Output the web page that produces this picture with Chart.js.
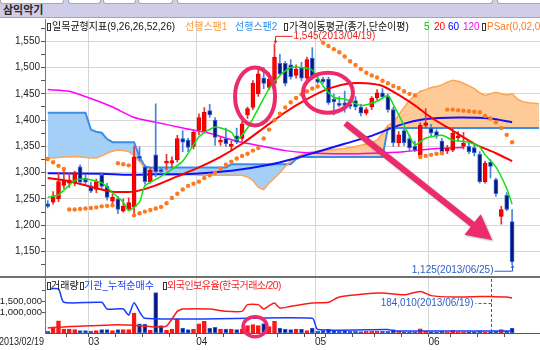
<!DOCTYPE html>
<html lang="ko">
<head>
<meta charset="utf-8">
<title>삼익악기</title>
<script src="https://cdn.jsdelivr.net/npm/chart.js@4.4.1/dist/chart.umd.min.js"></script>
<style>
  html, body { margin: 0; padding: 0; }
  body { position: relative; width: 540px; height: 350px; overflow: hidden; background: #fff;
         font-family: "Liberation Sans", "Noto Sans CJK KR", sans-serif; }
  #titlebar { position: absolute; left: 0; top: 0; width: 540px; height: 17px; background: #cfcde7; border-bottom: 1px solid #a3a1c4; }
  .tab { position: absolute; top: 0; height: 3px; background: #fff; border: 1px solid #a8a8a8; border-top: none; border-radius: 0 0 3px 3px; }
  #title { position: absolute; left: 3px; top: 3px; font-size: 11px; line-height: 13px; font-weight: bold; color: #2a2a2a; font-family: "Noto Sans CJK KR", sans-serif; }
  canvas { position: absolute; left: 0; }
  #price { top: 18px; }
  #volume { top: 277px; }
  #sep { position: absolute; left: 0; top: 276px; width: 540px; height: 2px; background: #6f6f6f; }
  .lg { position: absolute; font-size: 10px; line-height: 12px; white-space: nowrap; }
  .ico { position: absolute; width: 2px; height: 6px; background: #fff; border: 1px solid #333; }
</style>
</head>
<body>
<div id="titlebar">
  <div class="tab" style="left:0;width:62px"></div>
  <div class="tab" style="left:68px;width:31px"></div>
  <div class="tab" style="left:103px;width:31px"></div>
  <div class="tab" style="left:138px;width:33px"></div>
  <div class="tab" style="left:177px;width:314px"></div>
  <div class="tab" style="left:497px;width:50px"></div>
  <div id="title">삼익악기</div>
</div>
<canvas id="price" width="540" height="259"></canvas>
<canvas id="volume" width="540" height="73"></canvas>
<div id="sep"></div>

<span class="ico" style="left:47px;top:23px"></span>
<span class="lg" style="left:52px;top:21px;color:#111">일목균형지표(9,26,26,52,26)</span>
<span class="lg" style="left:185px;top:21px;color:#ff9a3c">선행스팬1</span>
<span class="lg" style="left:235px;top:21px;color:#2f8ff0">선행스팬2</span>
<span class="ico" style="left:284px;top:23px"></span>
<span class="lg" style="left:289px;top:21px;color:#111">가격이동평균(종가,단순이평)</span>
<span class="lg" style="left:424px;top:21px;color:#00c800">5</span>
<span class="lg" style="left:434px;top:21px;color:#ff0000">20</span>
<span class="lg" style="left:448px;top:21px;color:#0000ff">60</span>
<span class="lg" style="left:463px;top:21px;color:#ff00ff">120</span>
<span class="ico" style="left:482px;top:23px"></span>
<span class="lg" style="left:487px;top:21px;color:#ff7a20">PSar(0,02,0,2)</span>

<span class="ico" style="left:47px;top:282px"></span>
<span class="lg" style="left:51px;top:280px;color:#111">거래량</span>
<span class="ico" style="left:80px;top:282px"></span>
<span class="lg" style="left:84px;top:280px;color:#1a3cff">기관_누적순매수</span>
<span class="ico" style="left:163px;top:282px"></span>
<span class="lg" style="left:167px;top:280px;color:#ff1a1a;letter-spacing:-0.5px">외국인보유율(한국거래소/20)</span>

<script>
  // ---- data ----
  const firstDate = '2013/02/19';
  const monthTicks = [7.5, 27.5, 49.5, 70.5];
  const monthLabels = ['03', '04', '05', '06'];
  const weekTicks = [3.5, 12.5, 17.5, 22.5, 32.5, 37.5, 42.5, 47.5, 51.5, 56.5, 60.5, 65.5, 74.5, 79.5, 84.5];
  const priceTicks = [1125, 1150, 1175, 1200, 1225, 1250, 1275, 1300, 1325, 1350, 1375, 1400, 1425, 1450, 1475, 1500, 1525, 1550, 1575];
  const volumeTicks = [1000000, 1500000, 2000000];

  const open = [1241, 1244, 1250, 1276, 1280, 1280, 1311, 1290, 1275, 1268,
    1296, 1274, 1246, 1250, 1227, 1230, 1235, 1331, 1311, 1283,
    1334, 1305, 1318, 1318, 1325, 1365, 1362, 1350, 1381, 1380,
    1418, 1400, 1358, 1365, 1350, 1370, 1365, 1410, 1424, 1450,
    1480, 1462, 1470, 1508, 1508, 1505, 1485, 1500, 1480, 1518,
    1478, 1478, 1478, 1440, 1432, 1433, 1430, 1437, 1425, 1413,
    1425, 1442, 1452, 1445, 1420, 1357, 1380, 1365, 1350, 1333,
    1390, 1385, 1378, 1360, 1341, 1343, 1366, 1350, 1350, 1348,
    1335, 1283, 1320, 1287, 1217, 1257, 1207];
  const high = [1247, 1264, 1300, 1305, 1300, 1303, 1315, 1295, 1282, 1288,
    1300, 1280, 1260, 1255, 1250, 1252, 1350, 1349, 1315, 1310,
    1431, 1310, 1335, 1330, 1371, 1380, 1366, 1380, 1412, 1424,
    1430, 1405, 1368, 1385, 1360, 1385, 1398, 1425, 1475, 1495,
    1500, 1490, 1545, 1525, 1512, 1515, 1505, 1510, 1520, 1538,
    1488, 1482, 1482, 1450, 1445, 1455, 1440, 1445, 1430, 1424,
    1445, 1458, 1460, 1450, 1425, 1378, 1385, 1372, 1360, 1395,
    1422, 1392, 1382, 1365, 1352, 1385, 1378, 1377, 1356, 1352,
    1340, 1322, 1325, 1290, 1236, 1262, 1230];
  const low = [1233, 1240, 1245, 1270, 1272, 1275, 1278, 1278, 1262, 1262,
    1270, 1248, 1240, 1222, 1225, 1228, 1222, 1322, 1278, 1280,
    1292, 1298, 1305, 1310, 1320, 1340, 1340, 1345, 1372, 1376,
    1405, 1352, 1352, 1350, 1343, 1355, 1360, 1403, 1420, 1445,
    1460, 1458, 1465, 1485, 1465, 1478, 1480, 1475, 1475, 1478,
    1470, 1470, 1430, 1410, 1425, 1415, 1422, 1420, 1408, 1410,
    1420, 1438, 1442, 1415, 1350, 1350, 1352, 1340, 1340, 1330,
    1386, 1370, 1365, 1336, 1336, 1340, 1360, 1345, 1336, 1332,
    1280, 1280, 1290, 1255, 1202, 1228, 1125];
  const close = [1236, 1256, 1283, 1285, 1286, 1300, 1282, 1282, 1265, 1283,
    1274, 1253, 1253, 1230, 1236, 1243, 1330, 1327, 1283, 1305,
    1302, 1302, 1322, 1323, 1365, 1358, 1348, 1377, 1405, 1415,
    1410, 1367, 1362, 1355, 1354, 1358, 1393, 1422, 1470, 1488,
    1470, 1478, 1520, 1488, 1470, 1482, 1497, 1480, 1515, 1482,
    1472, 1473, 1433, 1435, 1428, 1428, 1426, 1425, 1413, 1420,
    1442, 1452, 1444, 1420, 1357, 1372, 1357, 1347, 1343, 1390,
    1395, 1375, 1370, 1340, 1347, 1375, 1370, 1356, 1340, 1338,
    1283, 1318, 1312, 1260, 1230, 1230, 1131];

  const volume = [90000, 240000, 580000, 190000, 190000, 160000, 110000, 110000, 90000, 110000,
    160000, 160000, 110000, 160000, 160000, 160000, 950000, 440000, 420000, 140000,
    1930000, 350000, 140000, 190000, 660000, 240000, 160000, 190000, 440000, 550000,
    240000, 270000, 190000, 190000, 190000, 160000, 190000, 350000, 400000, 350000,
    450000, 300000, 550000, 240000, 190000, 160000, 190000, 190000, 110000, 240000,
    80000, 110000, 190000, 110000, 80000, 110000, 80000, 80000, 70000, 80000,
    80000, 80000, 80000, 80000, 160000, 80000, 50000, 50000, 50000, 200000,
    80000, 60000, 50000, 80000, 50000, 110000, 60000, 60000, 60000, 60000,
    80000, 60000, 60000, 80000, 160000, 80000, 240000];

  // leading spans run 5 slots past the last candle
  const span1 = [1328, 1328, 1329, 1330, 1330, 1331, 1330, 1329, 1328, 1328,
    1332, 1337, 1341, 1343, 1342, 1340, 1333, 1322, 1308, 1298,
    1297, 1297, 1296, 1296, 1296, 1296, 1296, 1296, 1295, 1295,
    1295, 1295, 1295, 1295, 1295, 1295, 1295, 1292, 1285, 1272,
    1268, 1280, 1290, 1300, 1312, 1322, 1330, 1334, 1338, 1340,
    1341, 1342, 1343, 1344, 1345, 1346, 1348, 1350, 1352, 1355,
    1357, 1362, 1375, 1390, 1395, 1410, 1424, 1438, 1447, 1455,
    1458, 1462, 1464, 1467, 1472, 1476, 1474, 1470, 1465, 1460,
    1452, 1447, 1450, 1453, 1450, 1448, 1450, 1440, 1435, 1433,
    1432, 1431];
  const span2 = [1414, 1414, 1414, 1414, 1414, 1414, 1414, 1414, 1382, 1378,
    1376, 1364, 1358, 1358, 1358, 1358, 1358, 1330, 1312, 1310,
    1310, 1310, 1310, 1310, 1310, 1310, 1310, 1310, 1310, 1310,
    1310, 1310, 1310, 1310, 1316, 1316, 1316, 1316, 1316, 1316,
    1316, 1316, 1316, 1316, 1316, 1316, 1326, 1330, 1330, 1330,
    1330, 1330, 1330, 1330, 1330, 1330, 1330, 1330, 1330, 1330,
    1330, 1330, 1330, 1385, 1385, 1385, 1385, 1385, 1385, 1385,
    1385, 1385, 1385, 1385, 1385, 1385, 1385, 1385, 1385, 1385,
    1385, 1385, 1385, 1385, 1385, 1385, 1385, 1385, 1385, 1385,
    1385, 1385];

  const psar = [1326, 1320, 1313, 1307, 1230, 1230, 1231, 1232, 1233, 1234,
    1236, 1237, 1238, 1318, 1316, 1314, 1219, 1223, 1226, 1229,
    1232, 1235, 1242, 1252, 1260, 1268, 1275, 1279, 1283, 1290,
    1295, 1300, 1308, 1315, 1321, 1327, 1332, 1336, 1342, 1347,
    1365, 1382, 1400, 1412, 1424, 1434, 1442, 1449, 1455, 1460,
    1464, 1547, 1541, 1535, 1529, 1521, 1512, 1505, 1497, 1490,
    1485, 1481, 1475, 1470, 1465, 1461, 1455, 1450, 1447, 1330,
    1332, 1334, 1336, 1337, 1420, 1420, 1419, 1418, 1417, 1416,
    1415, 1408, 1403, 1396, 1385, 1372, 1358];

  // moving averages, read as [day, value] points
  const ma5 = [[0, 1253], [2, 1258], [5, 1285], [7, 1288], [10, 1281], [12, 1262], [14, 1244], [15, 1228],
    [17, 1244], [18, 1275], [21, 1293], [25, 1322], [28, 1368], [31, 1387], [34, 1377], [35, 1362], [37, 1385],
    [39, 1422], [41, 1460], [43, 1485], [45, 1500], [47, 1500], [49, 1495], [51, 1465], [53, 1443], [55, 1440],
    [58, 1428], [61, 1436], [63, 1447], [64, 1430], [66, 1390], [68, 1353], [70, 1366], [73, 1371], [75, 1362],
    [78, 1358], [80, 1349], [81, 1334], [83, 1311], [85, 1270], [86, 1240]];
  const ma20 = [[0, 1290], [4, 1284], [8, 1273], [12, 1264], [16, 1264], [20, 1276], [24, 1293], [28, 1310],
    [32, 1330], [36, 1355], [40, 1385], [44, 1415], [48, 1440], [52, 1460], [56, 1470], [59, 1470], [62, 1465],
    [65, 1448], [68, 1428], [71, 1405], [75, 1380], [79, 1355], [83, 1337], [86, 1322]];
  const ma60 = [[0, 1299], [10, 1298], [15, 1296], [20, 1297], [25, 1297], [30, 1300], [35, 1305], [41, 1315],
    [45, 1325], [50, 1340], [55, 1355], [60, 1370], [65, 1390], [70, 1402], [76, 1405], [82, 1403], [86, 1396]];
  const ma120 = [[0, 1458], [4, 1455], [8, 1441], [12, 1425], [16, 1405], [20, 1396], [25, 1385], [30, 1375],
    [35, 1360], [40, 1350], [44, 1342], [48, 1338], [55, 1336], [60, 1337], [66, 1340], [72, 1346], [77, 1348]];

  const institutionNet = [[0, 2100000], [2, 2100000], [3, 1460000], [10, 1460000], [11, 1140000], [14, 1140000],
    [15, 850000], [16, 1440000], [18, 700000], [49, 700000], [50, 170000], [63, 170000], [64, 100000], [86, 100000]];
  const foreignHold = [[0, 238000], [4, 314000], [8, 348000], [13, 395000], [17, 348000], [20, 286000], [22, 330000],
    [24, 1030000], [25, 1140000], [30, 1140000], [33, 1030000], [36, 1030000], [37, 1350000], [39, 1350000],
    [40, 1140000], [41, 1300000], [42, 1430000], [43, 1190000], [45, 1270000], [49, 1430000], [52, 1460000],
    [54, 1710000], [59, 1870000], [62, 1900000], [66, 1820000], [69, 1980000], [71, 1780000], [75, 1710000],
    [80, 1740000], [82, 1740000], [85, 1710000], [86, 1670000]];

  const highText = '1,545(2013/04/19)';
  const lowText = '1,125(2013/06/25)';
  const markDay = 82;
  const markText = '184,010(2013/06/19)';
  // hand-drawn marks, in chart coordinates
  const pinkCircles = [{ x: 38.4, y: 1445, rx: 20, ry: 29 }, { x: 51.9, y: 1452, rx: 25, ry: 20 }];
  const pinkArrow = { from: [55.1, 1394], to: [82.3, 1172] };
  const volumeCircle = { x: 38.4, y: 300000, rx: 12, ry: 10 };

  // ---- styles ----
  const UP = '#ff0000';
  const DOWN = '#06167f';
  const PINK = '#ec2a6c';
  const GRID = '#d6d6d6';
  const FONT = '"Liberation Sans", "Noto Sans CJK KR", sans-serif';
  Chart.defaults.font.family = FONT;
  Chart.defaults.font.size = 10;
  Chart.defaults.color = '#222';

  const xMin = -0.5;
  const xMax = -0.5 + 495 / 5.4;
  const isUp = close.map((c, i) => c >= open[i]);
  const pts = (arr) => arr.map((v, i) => ({ x: i, y: v }));
  const knots = (arr) => arr.map(([x, y]) => ({ x, y }));
  const highIdx = high.indexOf(Math.max(...high));
  const lowIdx = low.indexOf(Math.min(...low));

  function lineSet(label, data, color, width, order) {
    return { type: 'line', label, data, borderColor: color, borderWidth: width, pointRadius: 0, tension: 0.2, fill: false, order };
  }

  const priceNotes = {
    id: 'priceNotes',
    afterDatasetsDraw(chart) {
      const { ctx, scales: { x, y } } = chart;
      ctx.save();
      ctx.font = '10px ' + FONT;
      ctx.textBaseline = 'middle';
      ctx.lineWidth = 1;

      const hx = Math.round(x.getPixelForValue(highIdx)) + 0.5;
      const hy = y.getPixelForValue(high[highIdx]);
      ctx.strokeStyle = ctx.fillStyle = '#e8231f';
      ctx.beginPath();
      ctx.moveTo(hx, hy - 1); ctx.lineTo(hx, hy - 7.5); ctx.lineTo(hx + 17, hy - 7.5);
      ctx.stroke();
      ctx.beginPath();
      ctx.moveTo(hx, hy); ctx.lineTo(hx - 2, hy - 3); ctx.lineTo(hx + 2, hy - 3); ctx.fill();
      ctx.fillText(highText, hx + 18, hy - 8);

      const lx = Math.round(x.getPixelForValue(lowIdx)) + 0.5;
      const ly = y.getPixelForValue(low[lowIdx]);
      ctx.strokeStyle = ctx.fillStyle = '#2b5fcc';
      ctx.beginPath();
      ctx.moveTo(lx, ly + 1); ctx.lineTo(lx, ly + 6.5); ctx.lineTo(lx - 18, ly + 6.5);
      ctx.stroke();
      ctx.beginPath();
      ctx.moveTo(lx, ly); ctx.lineTo(lx - 2, ly + 3); ctx.lineTo(lx + 2, ly + 3); ctx.fill();
      ctx.textAlign = 'right';
      ctx.fillText(lowText, lx - 19, ly + 6);

      ctx.strokeStyle = PINK;
      ctx.lineWidth = 4;
      pinkCircles.forEach((c) => {
        ctx.beginPath();
        ctx.ellipse(x.getPixelForValue(c.x), y.getPixelForValue(c.y), c.rx, c.ry, 0, 0, Math.PI * 2);
        ctx.stroke();
      });

      const x1 = x.getPixelForValue(pinkArrow.from[0]), y1 = y.getPixelForValue(pinkArrow.from[1]);
      const x2 = x.getPixelForValue(pinkArrow.to[0]), y2 = y.getPixelForValue(pinkArrow.to[1]);
      const ang = Math.atan2(y2 - y1, x2 - x1);
      const nx = -Math.sin(ang), ny = Math.cos(ang);
      const bx = x2 - 25 * Math.cos(ang), by = y2 - 25 * Math.sin(ang);
      ctx.shadowColor = 'rgba(0,0,0,0.35)';
      ctx.shadowBlur = 2;
      ctx.shadowOffsetX = 1;
      ctx.shadowOffsetY = 1;
      ctx.fillStyle = PINK;
      ctx.beginPath();
      ctx.moveTo(x1 + nx * 3, y1 + ny * 3);
      ctx.lineTo(bx + nx * 3, by + ny * 3);
      ctx.lineTo(bx + nx * 13, by + ny * 13);
      ctx.lineTo(x2, y2);
      ctx.lineTo(bx - nx * 13, by - ny * 13);
      ctx.lineTo(bx - nx * 3, by - ny * 3);
      ctx.lineTo(x1 - nx * 3, y1 - ny * 3);
      ctx.closePath();
      ctx.fill();
      ctx.restore();
    }
  };

  const volumeNotes = {
    id: 'volumeNotes',
    afterDatasetsDraw(chart) {
      const { ctx, chartArea, scales: { x, y } } = chart;
      ctx.save();
      ctx.strokeStyle = ctx.fillStyle = '#2b5fcc';
      ctx.lineWidth = 1;
      ctx.setLineDash([3, 2]);
      const mx = Math.round(x.getPixelForValue(markDay)) + 0.5;
      const my = chartArea.top + 25.5;
      ctx.beginPath();
      ctx.moveTo(mx, chartArea.top + 1); ctx.lineTo(mx, chartArea.bottom);
      ctx.moveTo(mx, my); ctx.lineTo(mx - 16, my);
      ctx.stroke();
      ctx.setLineDash([]);
      ctx.font = '10px ' + FONT;
      ctx.textAlign = 'right';
      ctx.textBaseline = 'middle';
      ctx.fillText(markText, mx - 18, my);

      ctx.strokeStyle = PINK;
      ctx.lineWidth = 3.5;
      ctx.beginPath();
      ctx.ellipse(x.getPixelForValue(volumeCircle.x), y.getPixelForValue(volumeCircle.y), volumeCircle.rx, volumeCircle.ry, 0, 0, Math.PI * 2);
      ctx.stroke();
      ctx.restore();
    },
    afterDraw(chart) {
      const { ctx, scales: { x } } = chart;
      ctx.save();
      ctx.font = '10px ' + FONT;
      ctx.fillStyle = '#222';
      ctx.textAlign = 'right';
      ctx.textBaseline = 'middle';
      ctx.fillText(firstDate, x.left - 1, x.top + 9, 45);
      ctx.restore();
    }
  };

  const xPrice = {
    type: 'linear', min: xMin, max: xMax, offset: false,
    afterBuildTicks: (s) => { s.ticks = monthTicks.map((v) => ({ value: v })); },
    ticks: { display: false },
    grid: { color: GRID, drawTicks: false, offset: false },
    border: { display: false },
    afterFit: (s) => { s.height = 0; }
  };

  new Chart(document.getElementById('price'), {
    type: 'bar',
    data: {
      datasets: [
        {
          type: 'line', label: '선행스팬1', data: pts(span1), borderColor: '#ffa552', borderWidth: 1.5, pointRadius: 0,
          fill: { target: 1, above: '#fdca98', below: '#a4cff6' }, order: 10
        },
        { type: 'line', label: '선행스팬2', data: pts(span2), borderColor: '#3a8ee8', borderWidth: 2, pointRadius: 0, fill: false, order: 10 },
        lineSet('120', knots(ma120), '#ff00ff', 1.5, 8),
        lineSet('60', knots(ma60), '#1010ff', 2, 7),
        {
          type: 'bar', label: 'wick', data: low.map((l, i) => ({ x: i, y: [l, high[i]] })),
          backgroundColor: isUp.map((u) => (u ? '#e23434' : '#4b82e0')), barThickness: 1, grouped: false, order: 5
        },
        {
          type: 'bar', label: 'body', data: close.map((c, i) => ({ x: i, y: [open[i], c] })),
          backgroundColor: isUp.map((u) => (u ? UP : DOWN)), borderColor: isUp.map((u) => (u ? '#e60000' : '#3466d8')),
          borderWidth: 1, borderSkipped: false, barThickness: 4, minBarLength: 2, grouped: false, order: 4
        },
        lineSet('20', knots(ma20), '#ff0000', 2, 3),
        lineSet('5', knots(ma5), '#12e012', 1.5, 2),
        {
          type: 'line', label: 'PSar', data: pts(psar), showLine: false, pointRadius: 2.2, pointBorderWidth: 0,
          pointBackgroundColor: '#ff7a1e', order: 1
        }
      ]
    },
    options: {
      responsive: false, animation: false, events: [],
      layout: { padding: 0, autoPadding: false },
      plugins: { legend: { display: false }, tooltip: { enabled: false }, filler: { drawTime: 'beforeDatasetsDraw' } },
      scales: {
        x: xPrice,
        y: {
          min: 1300 - 104 / 0.532, max: 1300 + 155 / 0.532,
          afterBuildTicks: (s) => { s.ticks = priceTicks.map((v) => ({ value: v })); },
          ticks: {
            padding: 1, color: '#222', font: { size: 10, lineHeight: 0.1 },
            callback: (v) => (v % 50 === 0 ? v.toLocaleString('en-US') : '')
          },
          grid: {
            color: (c) => (c.tick && c.tick.value % 50 === 0 ? GRID : 'rgba(0,0,0,0)'),
            tickColor: '#555', tickLength: 4
          },
          border: { color: '#777' },
          afterFit: (s) => { s.width = 45; }
        }
      }
    },
    plugins: [priceNotes]
  });

  new Chart(document.getElementById('volume'), {
    type: 'bar',
    data: {
      datasets: [
        lineSet('외국인', knots(foreignHold), '#ff1a1a', 1.5, 1),
        lineSet('기관_누적순매수', knots(institutionNet), '#1a3cff', 1.5, 2),
        {
          type: 'bar', label: '거래량', data: volume.map((v, i) => ({ x: i, y: v })),
          backgroundColor: isUp.map((u) => (u ? '#f21a1a' : DOWN)), borderColor: isUp.map((u) => (u ? '#f21a1a' : '#3466d8')),
          borderWidth: 1, borderSkipped: false, barThickness: 4, grouped: false, order: 3
        }
      ]
    },
    options: {
      responsive: false, animation: false, events: [],
      layout: { padding: { top: 1 }, autoPadding: false },
      plugins: { legend: { display: false }, tooltip: { enabled: false } },
      scales: {
        x: {
          type: 'linear', min: xMin, max: xMax, offset: false,
          afterBuildTicks: (s) => {
            s.ticks = monthTicks.concat(weekTicks).sort((a, b) => a - b).map((v) => ({ value: v }));
          },
          ticks: {
            align: 'start', padding: 0, maxRotation: 0, autoSkip: false, color: '#222', font: { size: 10, lineHeight: 1 },
            callback: (v) => { const k = monthTicks.indexOf(v); return k >= 0 ? monthLabels[k] : ''; }
          },
          grid: {
            offset: false, tickLength: 4, tickColor: '#555',
            color: (c) => (c.tick && monthTicks.includes(c.tick.value) ? GRID : 'rgba(0,0,0,0)')
          },
          border: { color: '#555' },
          afterFit: (s) => { s.height = 17; }
        },
        y: {
          min: 0, max: 55 / 21 * 1000000,
          afterBuildTicks: (s) => { s.ticks = volumeTicks.map((v) => ({ value: v })); },
          ticks: {
            padding: 0, color: '#222', font: { size: 9.5, lineHeight: 0.1 },
            callback: (v) => (v < 2000000 ? v.toLocaleString('en-US') : '')
          },
          grid: { display: true, color: 'rgba(0,0,0,0)', tickColor: '#555', tickLength: 3 },
          border: { color: '#777' },
          afterFit: (s) => { s.width = 45; }
        }
      }
    },
    plugins: [volumeNotes]
  });
</script>
</body>
</html>
